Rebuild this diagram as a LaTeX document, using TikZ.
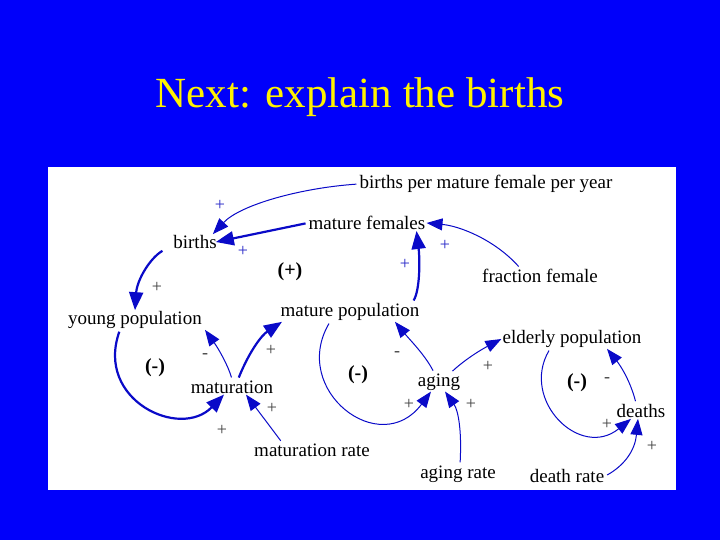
\documentclass[tikz,border=0pt]{standalone}
\usepackage{fontspec}
\setmainfont{Liberation Serif}
\usetikzlibrary{arrows.meta}
\definecolor{bg}{RGB}{0,0,250}
\definecolor{ln}{RGB}{10,10,200}
\definecolor{pl}{RGB}{40,40,200}
\tikzset{
  lbl/.style={font=\fontsize{19}{21}\selectfont, inner sep=1pt, text=black},
  thk/.style={draw=ln, line width=2.2pt, -{Triangle[length=18pt,width=14pt]}, shorten <=2pt},
  thn/.style={draw=ln, line width=1pt, -{Triangle[length=16pt,width=12pt]}, shorten <=2pt},
  sg/.style={font=\fontsize{18}{20}\selectfont, text=black!75},
  sgb/.style={font=\fontsize{18}{20}\selectfont, text=pl},
  loop/.style={font=\bfseries\fontsize{20}{22}\selectfont}
}
\begin{document}
\begin{tikzpicture}[x=1pt,y=-1pt]
\fill[bg] (0,0) rectangle (720,540);
\fill[white] (48,167) rectangle (676,490);
\node[text=yellow, font=\fontsize{43}{45}\selectfont] (title) at (360,97) {Next: explain the births};

\node[lbl] (bp) at (486,184) {births per mature female per year};
\node[lbl] (bi) at (195,242) {births};
\node[lbl] (mf) at (367,223) {mature females};
\node[lbl] (ff) at (540,276) {fraction female};
\node[lbl] (yp) at (135,320) {young population};
\node[lbl] (mp) at (350,312) {mature population};
\node[lbl] (ma) at (232,387) {maturation};
\node[lbl] (ep) at (572,339) {elderly population};
\node[lbl] (ag) at (439,382) {aging};
\node[lbl] (de) at (641,411) {deaths};
\node[lbl] (mr) at (312,450) {maturation rate};
\node[lbl] (ar) at (458,474) {aging rate};
\node[lbl] (dr) at (567,476) {death rate};

\node[loop] (l1) at (290,272) {(+)};
\node[loop] (l2) at (155,368) {(-)};
\node[loop] (l3) at (358,375) {(-)};
\node[loop] (l4) at (577,383) {(-)};

\draw[thn] (bp.west) .. controls (300,188) and (240,205) .. ([xshift=-5pt]bi.north east);
\draw[thk] (mf.west) -- ([xshift=-2pt]bi.east);
\draw[thk] ([xshift=-8pt]bi.south west) .. controls (150,258) and (137,280) .. (yp.north);
\draw[thn] ([xshift=-20pt]ff.north) .. controls (495,240) and (460,226) .. (mf.east);
\draw[thk] ([xshift=-8pt]mp.north east) .. controls (420,290) and (420,260) .. ([xshift=-10pt]mf.south east);
\draw[thk] ([xshift=-15pt]yp.south) .. controls (95,400) and (180,440) .. ([xshift=-8pt]ma.south);
\draw[thn] (ma.north) .. controls (228,365) and (218,348) .. ([xshift=70pt]yp.south);
\draw[thk] ([xshift=6pt]ma.north) .. controls (250,350) and (262,335) .. ([xshift=-68pt]mp.south);
\draw[thn] ([xshift=-30pt]mr.north) -- ([xshift=14pt]ma.south);
\draw[thn] ([xshift=-20pt]mp.south) .. controls (290,390) and (380,460) .. ([xshift=-8pt]ag.south);
\draw[thn] ([xshift=-5pt]ag.north) .. controls (425,355) and (410,340) .. ([xshift=45pt]mp.south);
\draw[thn] ([xshift=12pt]ag.north) .. controls (470,355) and (490,345) .. (ep.west);
\draw[thn] ([xshift=2pt]ar.north) .. controls (462,430) and (458,410) .. ([xshift=6pt]ag.south);
\draw[thn] ([xshift=-22pt]ep.south) .. controls (520,400) and (580,460) .. ([xshift=-10pt]de.south);
\draw[thn] ([xshift=-5pt]de.north) .. controls (630,380) and (620,365) .. ([xshift=35pt]ep.south);
\draw[thn] (dr.east) .. controls (625,465) and (635,450) .. ([xshift=-3pt]de.south);

\node[sgb] (s1) at (220,205) {+};
\node[sgb] (s2) at (243,251) {+};
\node[sg] (s3) at (157,287) {+};
\node[sgb] (s4) at (445,245) {+};
\node[sgb] (s5) at (405,264) {+};
\node[sg] (s6) at (222,430) {+};
\node[sg] (s7) at (205,356) {-};
\node[sg] (s8) at (271,350) {+};
\node[sg] (s9) at (272,408) {+};
\node[sg] (s10) at (409,404) {+};
\node[sg] (s11) at (397,354) {-};
\node[sg] (s12) at (488,366) {+};
\node[sg] (s13) at (471,404) {+};
\node[sg] (s14) at (607,424) {+};
\node[sg] (s15) at (607,380) {-};
\node[sg] (s16) at (652,446) {+};
\end{tikzpicture}
\end{document}
